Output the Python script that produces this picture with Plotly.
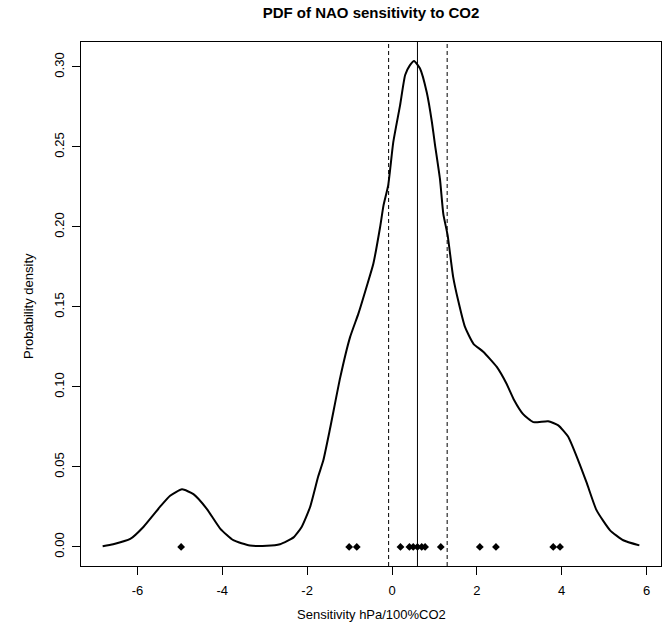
import plotly.graph_objects as go

# Density curve
curve_x = [-6.82, -6.57, -6.17, -5.86, -5.47, -5.23, -4.95, -4.68, -4.37, -4.05, -3.74, -3.35,
           -2.95, -2.64, -2.32, -2.13, -1.93, -1.74, -1.62, -1.46, -1.22, -0.99, -0.79, -0.60,
           -0.44, -0.28, -0.20, -0.09, 0.03, 0.19, 0.31, 0.42, 0.52, 0.66, 0.82, 0.94, 1.01,
           1.13, 1.21, 1.31, 1.44, 1.56, 1.72, 1.92, 2.15, 2.47, 2.70, 2.88, 3.09, 3.33, 3.68,
           3.92, 4.15, 4.39, 4.59, 4.82, 5.14, 5.45, 5.83]
curve_y = [0.0004, 0.0017, 0.005, 0.0125, 0.025, 0.032, 0.036, 0.033, 0.024, 0.0115, 0.0042, 0.0009,
           0.0007, 0.0017, 0.006, 0.0125, 0.025, 0.044, 0.054, 0.074, 0.106, 0.131, 0.146, 0.1625,
           0.177, 0.200, 0.2135, 0.226, 0.253, 0.276, 0.295, 0.301, 0.3038, 0.299, 0.284, 0.2656, 0.252,
           0.230, 0.208, 0.195, 0.169, 0.154, 0.1375, 0.127, 0.122, 0.1125, 0.102, 0.0917, 0.083, 0.078, 0.0786,
           0.076, 0.069, 0.054, 0.040, 0.023, 0.0104, 0.0042, 0.001]

# Individual model sensitivities (plotted at density 0)
points_x = [-4.97, -1.01, -0.83, 0.20, 0.41, 0.50, 0.60, 0.70, 0.78, 1.15, 2.07, 2.45, 3.80, 3.96]
points_y = [0.0] * len(points_x)

# Vertical reference lines: mean (solid) and bounds (dashed)
vline_x = [-0.08, 0.60, 1.30]
vline_dash = ["dash", "solid", "dash"]

x_ticks = [-6, -4, -2, 0, 2, 4, 6]
x_ticklabels = ["-6", "-4", "-2", "0", "2", "4", "6"]
y_ticks = [0.00, 0.05, 0.10, 0.15, 0.20, 0.25, 0.30]
y_ticklabels = ["0.00", "0.05", "0.10", "0.15", "0.20", "0.25", "0.30"]

title_text = "PDF of NAO sensitivity to CO2"
x_title = "Sensitivity hPa/100%CO2"
y_title = "Probability density"

FONT = "Liberation Sans, Arial, sans-serif"

fig = go.Figure()
fig.add_trace(go.Scatter(x=curve_x, y=curve_y, mode="lines",
                         line=dict(color="black", width=2, shape="spline", smoothing=0.5),
                         showlegend=False, hoverinfo="skip"))
fig.add_trace(go.Scatter(x=points_x, y=points_y, mode="markers",
                         marker=dict(symbol="diamond", size=6, color="black"),
                         showlegend=False))

for vx, d in zip(vline_x, vline_dash):
    fig.add_shape(type="line", xref="x", yref="paper", x0=vx, x1=vx, y0=0, y1=1,
                  line=dict(color="black", width=1, dash=d if d == "solid" else "4px,3px"))

fig.update_layout(
    template="none",
    width=662, height=626,
    margin=dict(l=81, r=1, t=42, b=60, pad=0, autoexpand=False),
    paper_bgcolor="white", plot_bgcolor="white",
    font=dict(family=FONT, size=13, color="black"),
    title=dict(text="<b>" + title_text + "</b>", x=(81 + 661) / 2 / 662, xanchor="center",
               y=1 - 13 / 626, yanchor="middle", font=dict(size=15, family=FONT, color="black")),
    showlegend=False,
)

fig.update_xaxes(range=[-7.33, 6.34], tickvals=x_ticks, ticktext=x_ticklabels,
                 automargin=False,
                 showgrid=False, zeroline=False, showline=True, mirror=True,
                 linecolor="black", linewidth=1, ticks="outside", ticklen=8,
                 tickcolor="black", tickfont=dict(size=13, color="black"),
                 ticklabelstandoff=4)
fig.update_yaxes(range=[-0.0119, 0.3156], tickvals=y_ticks, ticktext=y_ticklabels,
                 automargin=False,
                 tickangle=-90, showgrid=False, zeroline=False, showline=True, mirror=True,
                 linecolor="black", linewidth=1, ticks="outside", ticklen=8,
                 tickcolor="black", tickfont=dict(size=13, color="black"),
                 ticklabelstandoff=3)

fig.add_annotation(text=x_title, xref="paper", yref="paper",
                   x=0.5, y=-(614 - 566) / 524, xanchor="center", yanchor="middle",
                   showarrow=False, font=dict(size=13, color="black", family=FONT))
fig.add_annotation(text=y_title, xref="paper", yref="paper",
                   x=-(81 - 28) / 580, y=(566 - 306) / 524, xanchor="center", yanchor="middle",
                   textangle=-90, showarrow=False, font=dict(size=13, color="black", family=FONT))

fig.write_html("out.html", config={"displayModeBar": False},
               post_script="document.body.style.margin='0';")
